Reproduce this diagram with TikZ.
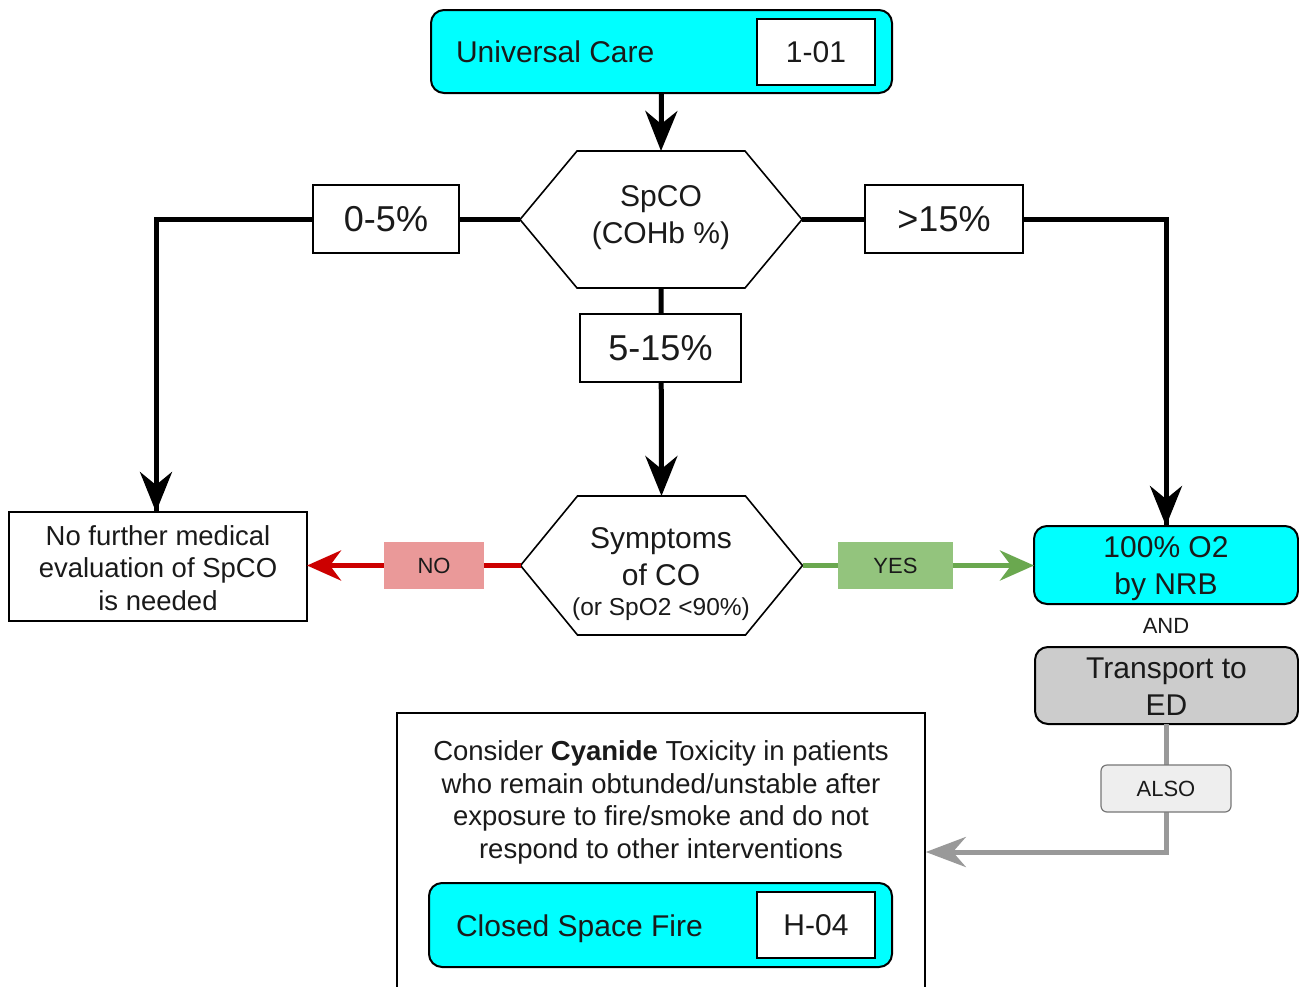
\documentclass[tikz,border=0pt]{standalone}
\usepackage{fontspec}
\setmainfont{Liberation Sans}
\usetikzlibrary{arrows.meta,calc}
\definecolor{cyanfill}{HTML}{00FFFF}
\definecolor{nofill}{HTML}{EA9999}
\definecolor{noline}{HTML}{CC0000}
\definecolor{yesfill}{HTML}{93C47D}
\definecolor{yesline}{HTML}{6AA84F}
\definecolor{grayfill}{HTML}{CCCCCC}
\definecolor{alsofill}{HTML}{EEEEEE}
\definecolor{alsoline}{HTML}{999999}
\definecolor{alsoborder}{HTML}{777777}
\definecolor{txt}{HTML}{1A1A1A}
\begin{document}
\begin{tikzpicture}[x=1pt,y=-1pt,
  every node/.style={inner sep=0pt, outer sep=0pt, text=txt},
  fbig/.style={font=\fontsize{30}{37}\selectfont},
  flab/.style={font=\fontsize{36}{40}\selectfont},
  fmid/.style={font=\fontsize{27.5}{32.5}\selectfont},
  fsmall/.style={font=\fontsize{22}{26}\selectfont},
  cbox/.style={draw=black, line width=2pt, fill=cyanfill, rounded corners=13pt},
  codebox/.style={draw=black, line width=1.8pt, fill=white, fbig},
  hexnode/.style={minimum width=282pt, minimum height=137pt, align=center},
  hexline/.style={draw=black, line width=1.6pt, fill=white},
  labbox/.style={draw=black, line width=1.8pt, fill=white, flab, minimum width=146pt, minimum height=68pt},
  blk/.style={draw=black, line width=5pt, -{Stealth[length=40pt, width=32pt, inset=13pt]}},
  redarr/.style={draw=noline, line width=5pt, -{Stealth[length=34pt, width=30pt, inset=11pt]}},
  grnarr/.style={draw=yesline, line width=5pt, -{Stealth[length=34pt, width=30pt, inset=11pt]}},
  grayarr/.style={draw=alsoline, line width=5pt, -{Stealth[length=40pt, width=30pt, inset=13pt]}},
]
\useasboundingbox[fill=white] (0,0) rectangle (1299,986);

% --- top box
\node[cbox, minimum width=461pt, minimum height=83pt] (uc) at (661.5,51.5) {};
\node[fbig, anchor=west] (uct) at (456,52) {Universal Care};
\node[codebox, minimum width=118pt, minimum height=66pt] (ucc) at (816,52) {1-01};

% --- hexagon 1
\node[hexnode] (h1) at (661,219.5) {};
\draw[hexline] (h1.west) -- ([xshift=57pt]h1.north west) -- ([xshift=-57pt]h1.north east)
  -- (h1.east) -- ([xshift=-57pt]h1.south east) -- ([xshift=57pt]h1.south west) -- cycle;
\node[fbig, align=center] (h1t) at (661,218) {SpCO\\(COHb \%)};

% --- hexagon 2
\node[hexnode, minimum height=139pt] (h2) at (661.5,565.5) {};
\draw[hexline] (h2.west) -- ([xshift=57pt]h2.north west) -- ([xshift=-57pt]h2.north east)
  -- (h2.east) -- ([xshift=-57pt]h2.south east) -- ([xshift=57pt]h2.south west) -- cycle;
\node[fbig, align=center] (h2a) at (661,557) {Symptoms\\of CO};
\node[font=\fontsize{24.5}{28}\selectfont] (h2b) at (661,609) {(or SpO2 <90\%)};

% --- left result
\node[draw=black, line width=1.5pt, fill=white, minimum width=298pt, minimum height=109pt] (nf) at (158,566.5) {};
\node[fmid, align=center] (nft) at (158,568) {No further medical\\evaluation of SpCO\\is needed};

% --- right results
\node[cbox, minimum width=264pt, minimum height=78pt] (nrb) at (1166,565) {};
\node[fbig, align=center] (nrbt) at (1166,569) {100\% O2\\by NRB};
\node[fsmall] (andt) at (1166,626) {AND};
\node[draw=black, line width=2pt, fill=grayfill, rounded corners=13pt, minimum width=263pt, minimum height=77pt] (tr) at (1166.5,685.5) {};
\node[fbig, align=center] (trt) at (1166.5,686.5) {Transport to\\ED};

% --- cyanide box
\node[draw=black, line width=1.5pt, fill=white, minimum width=528pt, minimum height=300pt] (cy) at (661,863) {};
\node[fmid, align=center] (cyt) at (661,802.5) {Consider \textbf{Cyanide} Toxicity in patients\\who remain obtunded/unstable after\\exposure to fire/smoke and do not\\respond to other interventions};
\node[cbox, minimum width=463pt, minimum height=84pt] (csf) at (660.5,925) {};
\node[fbig, anchor=west] (csft) at (456,929) {Closed Space Fire};
\node[codebox, minimum width=118pt, minimum height=66pt] (csfc) at (816,925) {H-04};

\coordinate (ca) at (925.8,852);

% --- connectors
\draw[blk] (uc.south) -- (h1.north);
\draw[blk, -] (h1.west) -| ([xshift=-2pt]nf.north);
\draw[blk] ([xshift=-2pt]nf.north |- h1.west) -- ([xshift=-2pt]nf.north);
\draw[blk, -] (h1.east) -| (nrb.north);
\draw[blk] (nrb.north |- h1.east) -- (nrb.north);
\draw[blk] (h1.south) -- (h2.north);
\draw[redarr] (h2.west) -- (nf.east |- h2.west);
\draw[grnarr] (h2.east) -- (nrb.west |- h2.east);
\draw[grayarr] (tr.south) |- (ca);

% --- labels on connectors
\node[labbox] (l05) at (386,219) {0-5\%};
\node[labbox, minimum width=158pt] (l15) at (944,219) {>15\%};
\node[labbox, minimum width=161pt] (l515) at (660.5,348) {5-15\%};
\node[fill=nofill, fsmall, minimum width=100pt, minimum height=47pt] (lno) at (434,565.5) {NO};
\node[fill=yesfill, fsmall, minimum width=115pt, minimum height=47pt] (lyes) at (895.5,565.5) {YES};
\node[draw=alsoborder, line width=1.2pt, fill=alsofill, rounded corners=6pt, fsmall, minimum width=130pt, minimum height=47pt] (also) at (1166,788.5) {ALSO};
\end{tikzpicture}
\end{document}
